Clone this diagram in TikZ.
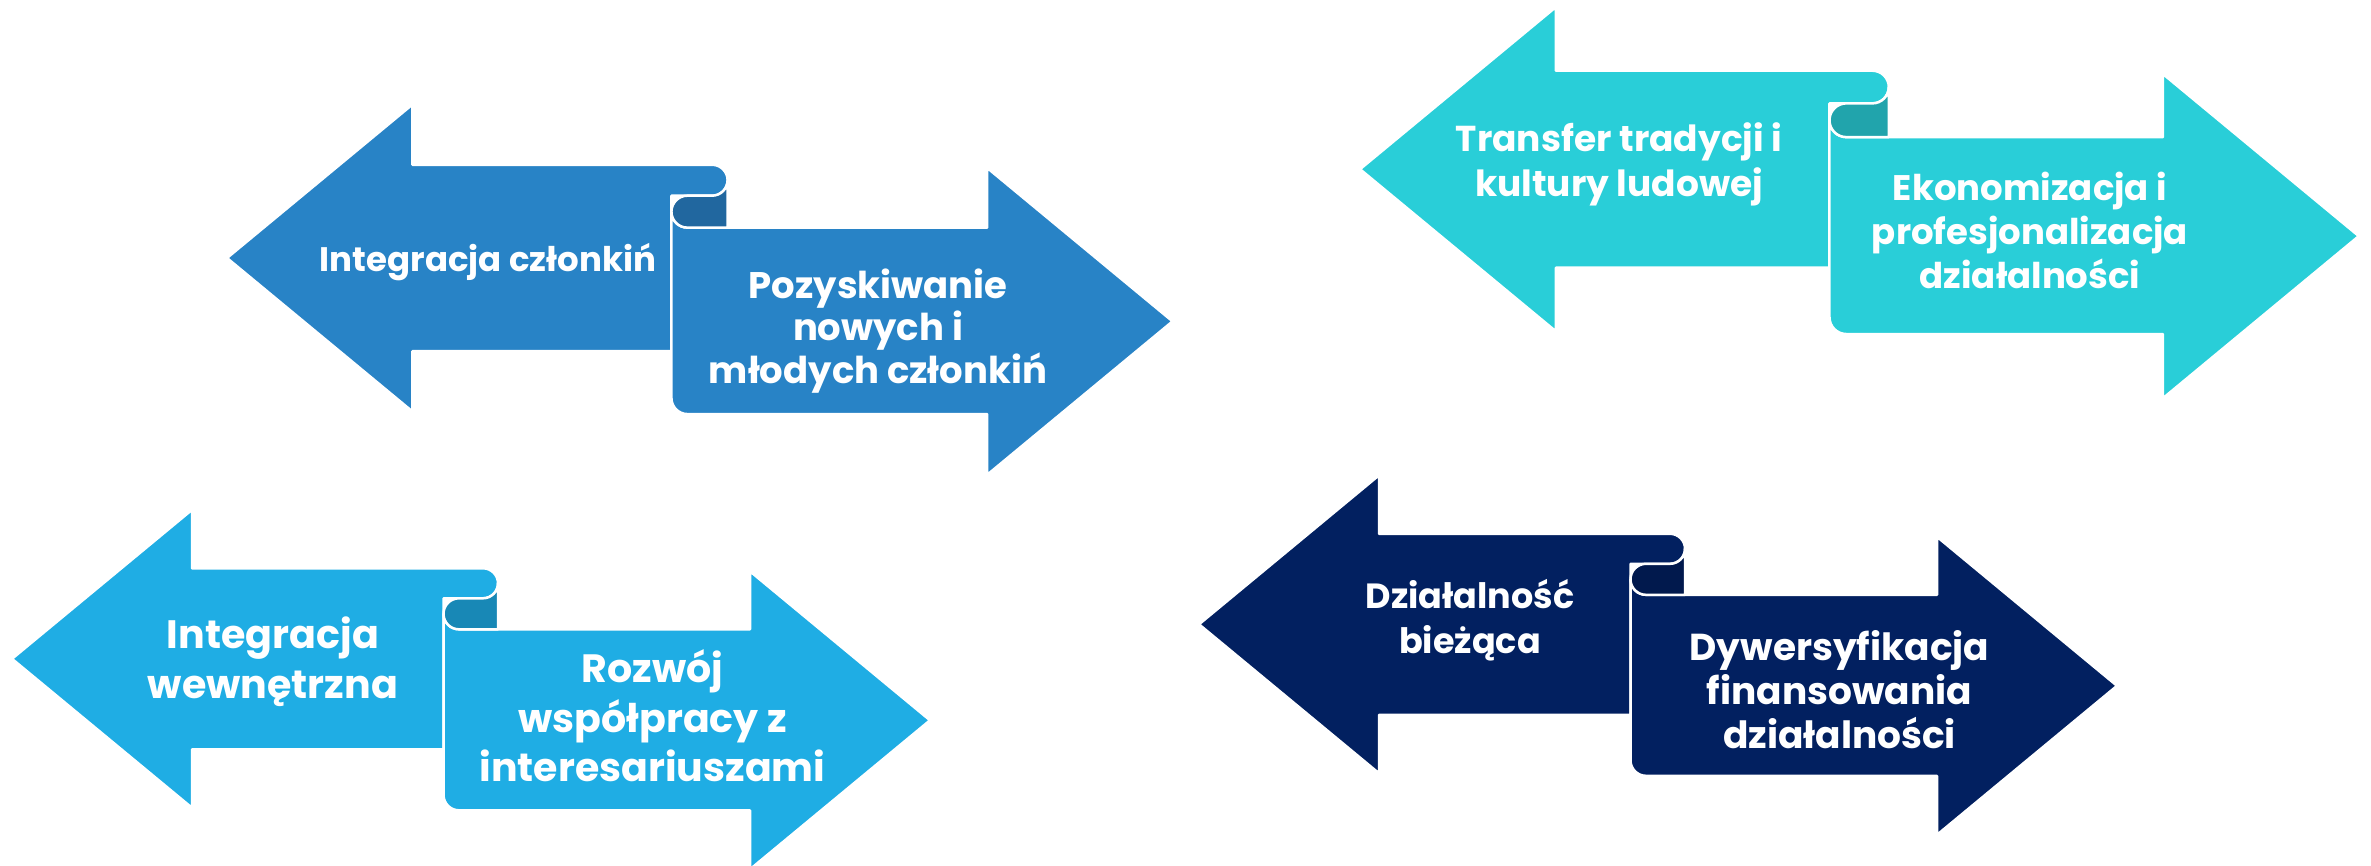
\documentclass[tikz,border=0pt]{standalone}
\usepackage{fontspec}
\setmainfont{Poppins}
\definecolor{cA}{HTML}{2883C6}\definecolor{dA}{HTML}{21679F}
\definecolor{cB}{HTML}{29CED8}\definecolor{dB}{HTML}{21A4AC}
\definecolor{cC}{HTML}{1FADE4}\definecolor{dC}{HTML}{1888B6}
\definecolor{cD}{HTML}{022060}\definecolor{dD}{HTML}{01194D}
\tikzset{
  rib/.style={draw=white, line width=2.5pt, line join=round},
  lbl/.style={text=white, align=center, anchor=base, inner sep=0pt},
}
% #1 tip x, #2 tip y (image, downwards), #3 scale, #4 main colour, #5 dark colour
\newcommand\ribbonpair[5]{%
\begin{scope}[shift={(#1,-#2)}, scale=#3]
 \filldraw[fill=#4, rib] (0,0) -- (180,149) -- (180,90.5) -- (471,90.5)
   arc[start angle=90,end angle=-90,radius=15] -- (431.5,60.5) -- (431.5,-90.5)
   -- (180,-90.5) -- (180,-149) -- cycle;
 \filldraw[fill=#4, rib] (447,29.5) -- (738,29.5) -- (738,87.5) -- (918,-61.5)
   -- (738,-210.5) -- (738,-151.5) -- (447,-151.5)
   arc[start angle=270,end angle=180,radius=15.5] -- (431.5,45)
   arc[start angle=180,end angle=270,radius=15.5] -- cycle;
 \filldraw[fill=#5, rib] (486,75.5) arc[start angle=0,end angle=-90,radius=15]
   -- (447,60.5) arc[start angle=90,end angle=270,radius=15.5] -- (486,29.5) -- cycle;
\end{scope}}
\begin{document}
\begin{tikzpicture}[x=1pt,y=1pt]
\useasboundingbox (0,0) rectangle (2371,-865);
\clip (0,0) rectangle (2371,-865);
\ribbonpair{227}{258}{1.03}{cA}{dA}
\ribbonpair{1360}{169.2}{1.088}{cB}{dB}
\ribbonpair{12}{658.8}{1.0}{cC}{dC}
\ribbonpair{1199}{624.3}{1.0}{cD}{dD}
% group 1
\node[lbl, font=\bfseries\fontsize{34}{42.5}\selectfont] (t1a) at (488,-271) {Integracja członkiń};
\node[lbl, font=\bfseries\fontsize{37}{42.5}\selectfont] (t1b) at (878,-383) {Pozyskiwanie\\nowych i\\młodych członkiń};
% group 2
\node[lbl, font=\bfseries\fontsize{36}{45}\selectfont] (t2a) at (1619,-196.7) {Transfer tradycji i\\kultury ludowej};
\node[lbl, font=\bfseries\fontsize{35.5}{44}\selectfont] (t2b) at (2030,-288) {Ekonomizacja i\\profesjonalizacja\\działalności};
% group 3
\node[lbl, font=\bfseries\fontsize{39.6}{50}\selectfont] (t3a) at (273,-698.3) {Integracja\\wewnętrzna};
\node[lbl, font=\bfseries\fontsize{39.5}{49.5}\selectfont] (t3b) at (652.5,-781.7) {Rozwój\\współpracy z\\interesariuszami};
% group 4
\node[lbl, font=\bfseries\fontsize{35}{45}\selectfont] (t4a) at (1470,-653.3) {Działalność\\bieżąca};
\node[lbl, font=\bfseries\fontsize{37.5}{44}\selectfont] (t4b) at (1839.5,-748.3) {Dywersyfikacja\\finansowania\\działalności};
\end{tikzpicture}
\end{document}
